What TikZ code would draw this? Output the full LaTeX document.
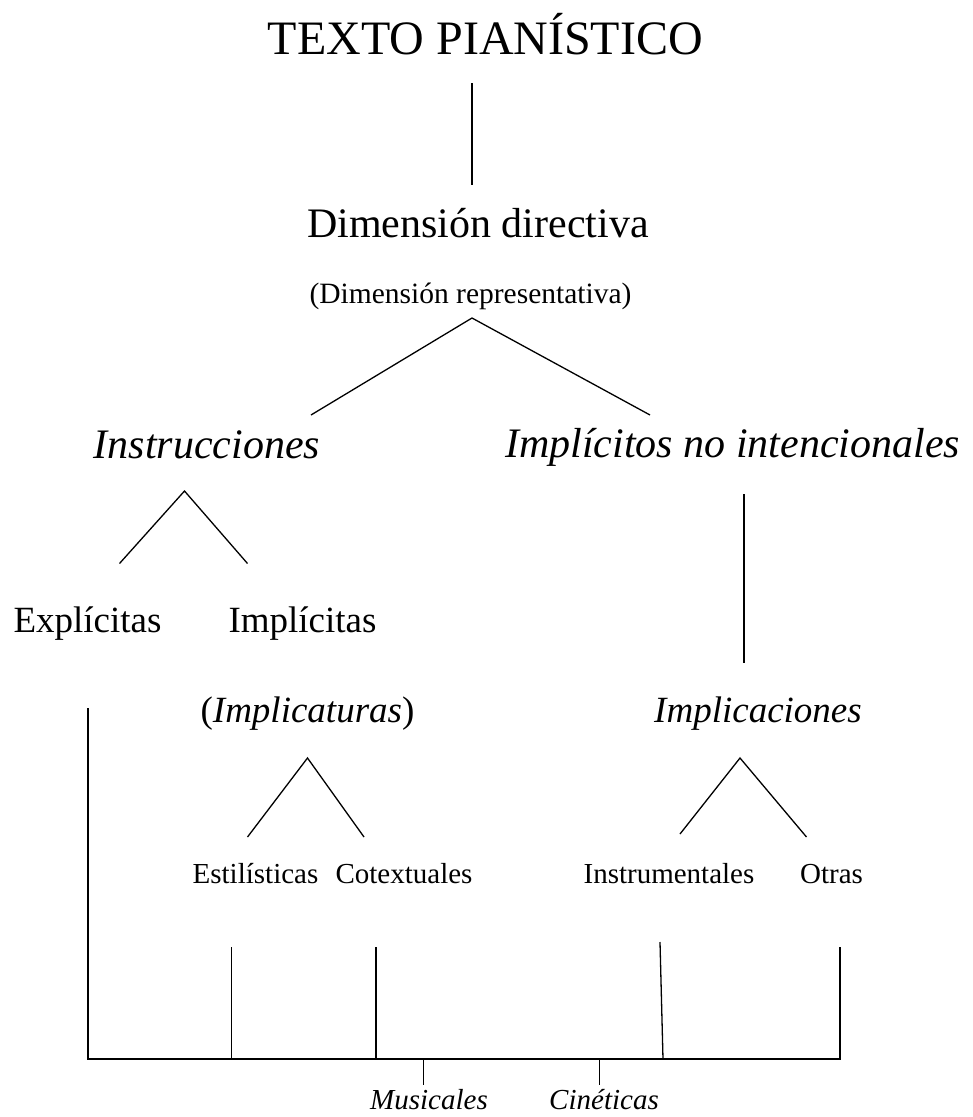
\documentclass[tikz,border=0pt]{standalone}
\usepackage{fontspec}
\setmainfont{Liberation Serif}
\begin{document}
\begin{tikzpicture}[x=1pt,y=-1pt,
  lbl/.style={inner sep=0pt,anchor=base},
  big/.style={lbl,font=\fontsize{48}{52}\selectfont},
  mid/.style={lbl,font=\fontsize{42}{46}\selectfont},
  med/.style={lbl,font=\fontsize{37}{40}\selectfont},
  sml/.style={lbl,font=\fontsize{29.5}{32}\selectfont},
  sm/.style={lbl,font=\fontsize{29}{32}\selectfont},
  ln/.style={line width=1.3pt}]
\path[use as bounding box] (0,0) rectangle (973,1117);
% texts
\node[big] (title) at (485.5,54) {TEXTO PIANÍSTICO};
\node[mid] (dd) at (478,237) {Dimensión directiva};
\node[sml] (dr) at (470.5,303) {(Dimensión representativa)};
\node[mid,font=\fontsize{42}{46}\selectfont\itshape] (ins) at (207,458) {Instrucciones};
\node[mid,font=\fontsize{42}{46}\selectfont\itshape] (imp) at (732.5,457) {Implícitos no intencionales};
\node[med] (exp) at (87.5,632) {Explícitas};
\node[med] (impl) at (302.5,632) {Implícitas};
\node[med] (ituras) at (307.5,722) {(\textit{Implicaturas})};
\node[med,font=\fontsize{37}{40}\selectfont\itshape] (icion) at (758,722) {Implicaciones};
\node[sm] (est) at (255.5,883) {Estilísticas};
\node[sm] (cot) at (404,883) {Cotextuales};
\node[sm] (instr) at (669,883) {Instrumentales};
\node[sm] (otr) at (831.5,883) {Otras};
\node[sm,font=\fontsize{29}{32}\selectfont\itshape] (mus) at (429,1109) {Musicales};
\node[sm,font=\fontsize{29}{32}\selectfont\itshape] (cin) at (604,1109) {Cinéticas};
% line end points
\coordinate (t1) at (472,83);
\coordinate (t2) at (472,185);
\coordinate (a1) at (472,318);
\coordinate (a1l) at (311,415);
\coordinate (a1r) at (650,415);
\coordinate (a2) at (184.5,491);
\coordinate (a2l) at (119.5,563.5);
\coordinate (a2r) at (247.5,563.5);
\coordinate (v1) at (744,494);
\coordinate (v2) at (744,663);
\coordinate (a3) at (307.5,758);
\coordinate (a3l) at (247.5,837);
\coordinate (a3r) at (364,837);
\coordinate (a4) at (740,758);
\coordinate (a4l) at (680,834);
\coordinate (a4r) at (806.5,837);
\coordinate (e1) at (88,708);
\coordinate (b0) at (88,1059);
\coordinate (s1) at (231.5,947);
\coordinate (b1) at (231.5,1059);
\coordinate (c1) at (376,947);
\coordinate (b2) at (376,1059);
\coordinate (i1) at (660,942);
\coordinate (b3) at (663,1059);
\coordinate (o1) at (840,947);
\coordinate (b4) at (840,1059);
\coordinate (m0) at (423.5,1059);
\coordinate (m1) at (423.5,1085);
\coordinate (k0) at (599.5,1059);
\coordinate (k1) at (599.5,1085);
% connectors
\draw[ln] (t1) -- (t2);
\draw[ln] (a1l) -- (a1) -- (a1r);
\draw[ln] (a2l) -- (a2) -- (a2r);
\draw[ln] (v1) -- (v2);
\draw[ln] (a3l) -- (a3) -- (a3r);
\draw[ln] (a4l) -- (a4) -- (a4r);
\draw[ln] (e1) -- (b0) -- (b4) -- (o1);
\draw[ln] (s1) -- (b1);
\draw[ln] (c1) -- (b2);
\draw[ln] (i1) -- (b3);
\draw[ln] (m0) -- (m1);
\draw[ln] (k0) -- (k1);
\end{tikzpicture}
\end{document}
